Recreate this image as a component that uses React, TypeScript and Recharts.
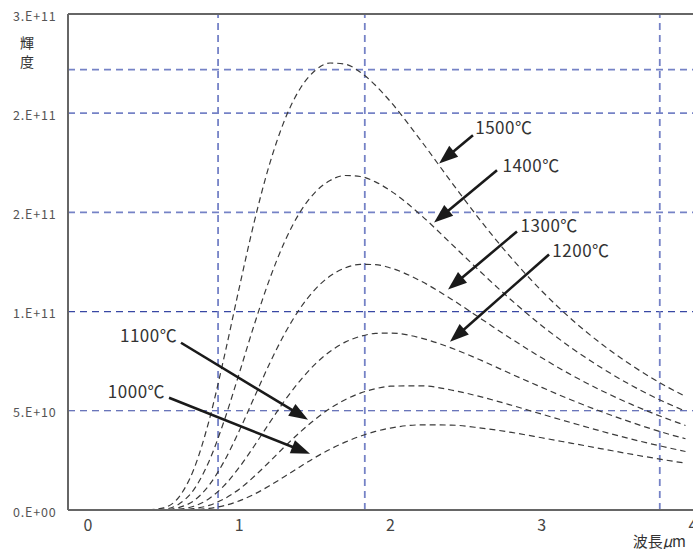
import React from "react";
import { LineChart, Line, XAxis, YAxis, ReferenceLine, ReferenceDot } from "recharts";

// wavelength (µm)
const wavelengths = [0.4, 0.5, 0.6, 0.7, 0.8, 0.9, 1.0, 1.1, 1.2, 1.3, 1.4, 1.5, 1.6, 1.7, 1.8, 1.9, 2.0, 2.2, 2.4, 2.6, 2.8, 3.0, 3.2, 3.4, 3.6, 3.8, 3.95];

// brightness values in units of 1e10
const t1500 = [0.01, 0.11, 0.64, 2.06, 4.49, 7.70, 11.20, 14.55, 17.42, 19.65, 21.21, 22.14, 22.53, 22.47, 22.07, 21.41, 20.58, 18.63, 16.55, 14.54, 12.69, 11.04, 9.59, 8.34, 7.26, 6.33, 5.72];
const t1400 = [0, 0.04, 0.29, 1.03, 2.45, 4.49, 6.89, 9.36, 11.62, 13.52, 14.99, 16.00, 16.61, 16.86, 16.81, 16.54, 16.09, 14.87, 13.43, 11.97, 10.57, 9.29, 8.15, 7.14, 6.25, 5.48, 4.98];
const t1300 = [0, 0.01, 0.12, 0.47, 1.24, 2.45, 3.99, 5.69, 7.37, 8.88, 10.14, 11.11, 11.79, 12.20, 12.38, 12.37, 12.20, 11.54, 10.64, 9.63, 8.62, 7.67, 6.79, 6.00, 5.30, 4.68, 4.26];
const t1200 = [0, 0, 0.04, 0.19, 0.57, 1.23, 2.15, 3.24, 4.39, 5.51, 6.50, 7.34, 7.99, 8.46, 8.75, 8.90, 8.92, 8.67, 8.17, 7.54, 6.85, 6.18, 5.53, 4.94, 4.40, 3.91, 3.59];
const t1100 = [0, 0, 0.01, 0.07, 0.23, 0.56, 1.05, 1.70, 2.43, 3.19, 3.91, 4.56, 5.12, 5.56, 5.89, 6.11, 6.24, 6.26, 6.05, 5.70, 5.28, 4.83, 4.39, 3.96, 3.56, 3.20, 2.95];
const t1000 = [0, 0, 0, 0.02, 0.08, 0.22, 0.46, 0.80, 1.22, 1.69, 2.17, 2.64, 3.06, 3.42, 3.72, 3.96, 4.13, 4.29, 4.28, 4.13, 3.91, 3.64, 3.36, 3.08, 2.80, 2.54, 2.36];
const UNIT = 1e10;

const seriesKeys = ["t1500", "t1400", "t1300", "t1200", "t1100", "t1000"];
const seriesValues = [t1500, t1400, t1300, t1200, t1100, t1000];

const xTicks = [0, 1, 2, 3, 4];
const xTickLabels = ["0", "1", "2", "3", "4"];
const yTicks = [0, 5e10, 1e11, 1.5e11, 2e11, 2.5e11];
const yTickLabels = ["0.E+00", "5.E+10", "1.E+11", "2.E+11", "2.E+11", "3.E+11"];

const hGridLight = [1.5e11, 2e11, 2.22e11];
const hGridDark = [5e10, 1e11];
const vGrid = [0.86, 1.83, 3.78];

// annotations (data coordinates; y in units of 1e10)
const annLabels = ["1500℃", "1400℃", "1300℃", "1200℃", "1100℃", "1000℃"];
const annTextX = [2.56, 2.74, 2.86, 3.07, 0.59, 0.51];
const annTextY = [19.34, 17.42, 14.39, 13.13, 8.84, 6.01];
const annTailX = [2.545, 2.704, 2.836, 3.048, 0.615, 0.536];
const annTailY = [18.89, 17.12, 14.04, 12.88, 8.43, 5.66];
const annTipX = [2.321, 2.288, 2.38, 2.393, 1.455, 1.468];
const annTipY = [17.47, 14.49, 11.11, 8.48, 4.55, 2.83];
const annAnchor = ["start", "start", "start", "start", "end", "end"];

const data = wavelengths.map((lam, i) => {
  const row: Record<string, number> = { lam };
  seriesKeys.forEach((k, j) => {
    row[k] = seriesValues[j][i] * UNIT;
  });
  return row;
});

const FONT = "'Noto Sans CJK JP', 'Noto Sans', sans-serif";

const XTick = (props: any) => {
  const { x, y, payload } = props;
  const idx = xTicks.indexOf(payload.value);
  return (
    <text x={x} y={y + 14} textAnchor="middle" dominantBaseline="central" fontSize={16} fill="#444" fontFamily={FONT}>
      {xTickLabels[idx]}
    </text>
  );
};

const YTick = (props: any) => {
  const { y, payload } = props;
  const idx = yTicks.indexOf(payload.value);
  return (
    <text
      x={13}
      y={y + 1}
      textAnchor="start"
      dominantBaseline="central"
      fontSize={12.5}
      letterSpacing={0.8}
      fill="#555"
      fontFamily={FONT}
    >
      {yTickLabels[idx]}
    </text>
  );
};

const ArrowShape = (props: any) => {
  const { x1, y1, x2, y2 } = props;
  const dx = x2 - x1;
  const dy = y2 - y1;
  const len = Math.hypot(dx, dy) || 1;
  const ux = dx / len;
  const uy = dy / len;
  const hl = 19;
  const hw = 7;
  const bx = x2 - ux * hl;
  const by = y2 - uy * hl;
  const px = -uy;
  const py = ux;
  return (
    <g>
      <line x1={x1} y1={y1} x2={bx + ux * 3} y2={by + uy * 3} stroke="#1a1a1a" strokeWidth={2.6} />
      <polygon
        points={`${x2},${y2} ${bx + px * hw},${by + py * hw} ${bx - px * hw},${by - py * hw}`}
        fill="#1a1a1a"
      />
    </g>
  );
};

export default function App() {
  return (
    <div
      style={{
        position: "absolute",
        left: 0,
        top: 0,
        width: 693,
        height: 549,
        overflow: "hidden",
        background: "#fff",
        fontFamily: FONT,
      }}
    >
      <LineChart width={710} height={549} data={data} margin={{ top: 14, right: 0, bottom: 0, left: 0 }}>
        <XAxis
          dataKey="lam"
          type="number"
          domain={[-0.132, 4.112]}
          ticks={xTicks}
          interval={0}
          allowDataOverflow
          height={39}
          tickSize={0}
          tickMargin={0}
          tickLine={false}
          axisLine={{ stroke: "#666", strokeWidth: 2 }}
          tick={XTick}
          label={{
            content: () => (
              <text x={686} y={540} textAnchor="end" dominantBaseline="central" fontSize={15} fill="#333" fontFamily={FONT}>
                波長<tspan fontStyle="italic">μ</tspan>m
              </text>
            ),
          }}
        />
        <YAxis
          type="number"
          domain={[0, 2.5e11]}
          ticks={yTicks}
          interval={0}
          allowDataOverflow
          width={68}
          tickSize={0}
          tickMargin={0}
          tickLine={false}
          axisLine={{ stroke: "#666", strokeWidth: 2 }}
          tick={YTick}
          label={{
            content: () => (
              <g>
                <text x={27} y={42} textAnchor="middle" dominantBaseline="central" fontSize={14} fill="#333" fontFamily={FONT}>
                  輝
                </text>
                <text x={27} y={61} textAnchor="middle" dominantBaseline="central" fontSize={14} fill="#333" fontFamily={FONT}>
                  度
                </text>
              </g>
            ),
          }}
        />
        {hGridLight.map((v) => (
          <ReferenceLine key={"hl" + v} y={v} stroke="#7582c6" strokeWidth={1.8} strokeDasharray="7 5" />
        ))}
        {hGridDark.map((v) => (
          <ReferenceLine key={"hd" + v} y={v} stroke="#3848a4" strokeWidth={1.1} strokeDasharray="7 5" />
        ))}
        {vGrid.map((v) => (
          <ReferenceLine key={"v" + v} x={v} stroke="#7582c6" strokeWidth={1.8} strokeDasharray="7 5" />
        ))}
        <ReferenceLine y={2.5e11} stroke="#666" strokeWidth={2} />
        {seriesKeys.map((k) => (
          <Line
            key={k}
            dataKey={k}
            type="monotone"
            stroke="#3a3a3a"
            strokeWidth={1.2}
            strokeDasharray="6 4"
            dot={false}
            activeDot={false}
            isAnimationActive={false}
          />
        ))}
        {annLabels.map((lab, i) => (
          <ReferenceLine
            key={"a" + i}
            segment={[
              { x: annTailX[i], y: annTailY[i] * UNIT },
              { x: annTipX[i], y: annTipY[i] * UNIT },
            ]}
            shape={ArrowShape}
          />
        ))}
        {annLabels.map((lab, i) => (
          <ReferenceDot
            key={"l" + i}
            x={annTextX[i]}
            y={annTextY[i] * UNIT}
            r={1}
            fill="none"
            stroke="none"
            shape={(p: any) => (
              <text
                x={p.cx}
                y={p.cy}
                textAnchor={annAnchor[i] as any}
                dominantBaseline="central"
                fontSize={17}
                letterSpacing={0.5}
                fill="#333"
                fontFamily={FONT}
              >
                {lab}
              </text>
            )}
          />
        ))}
      </LineChart>
    </div>
  );
}
